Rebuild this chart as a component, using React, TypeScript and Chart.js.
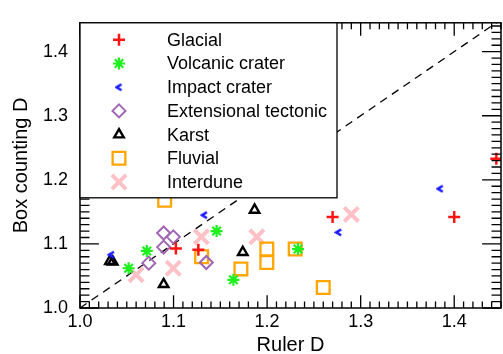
import React, { useEffect, useRef } from "react";
import { Chart, registerables } from "chart.js";
import { drawPoint } from "chart.js/helpers";

Chart.register(...registerables);

const seriesNames = ["Glacial", "Volcanic crater", "Impact crater", "Extensional tectonic", "Karst", "Fluvial", "Interdune"];

const glacialX = [1.445, 1.270, 1.400, 1.1025, 1.1265];
const glacialY = [1.233, 1.142, 1.142, 1.093, 1.091];

const volcanicX = [1.052, 1.0714, 1.146, 1.164, 1.233];
const volcanicY = [1.062, 1.089, 1.120, 1.044, 1.092];

const impactX = [1.133, 1.385, 1.2765, 1.0336];
const impactY = [1.145, 1.186, 1.118, 1.083];

const extensionalX = [1.0894, 1.0997, 1.0894, 1.0735, 1.135];
const extensionalY = [1.117, 1.111, 1.095, 1.070, 1.071];

const karstX = [1.032, 1.035, 1.0894, 1.1866, 1.174];
const karstY = [1.073, 1.072, 1.037, 1.153, 1.087];

const fluvialX = [1.0905, 1.130, 1.172, 1.1997, 1.1997, 1.230, 1.260];
const fluvialY = [1.168, 1.080, 1.061, 1.092, 1.071, 1.092, 1.032];

const interduneX = [1.060, 1.0997, 1.1297, 1.189, 1.290];
const interduneY = [1.052, 1.062, 1.111, 1.111, 1.146];

const xTicks = [1.0, 1.1, 1.2, 1.3, 1.4];
const yTicks = [1.0, 1.1, 1.2, 1.3, 1.4];
const xRange = [1.0, 1.45];
const yRange = [1.0, 1.445];
const diagonal = [1.0, 1.45];

const FONT = "'Liberation Sans', Arial, Helvetica, sans-serif";

function makeChevron(color: string) {
  const c = document.createElement("canvas");
  c.width = 9;
  c.height = 9;
  const ctx = c.getContext("2d")!;
  ctx.strokeStyle = color;
  ctx.lineWidth = 2.6;
  ctx.lineJoin = "miter";
  ctx.beginPath();
  ctx.moveTo(7, 1.5);
  ctx.lineTo(2.2, 4.5);
  ctx.lineTo(7, 7.5);
  ctx.stroke();
  return c;
}

const zip = (xs: number[], ys: number[]) => xs.map((x, i) => ({ x, y: ys[i] }));

export default function App() {
  const ref = useRef<HTMLCanvasElement | null>(null);

  useEffect(() => {
    const canvas = ref.current!;
    const chevron = makeChevron("#1a1aff");

    const styles = [
      { color: "#ff1414", pointStyle: "cross", radius: 6, borderWidth: 2.5 },
      { color: "#1ef01e", pointStyle: "star", radius: 6, borderWidth: 2.2 },
      { color: "#1a1aff", pointStyle: chevron as any, radius: 5, borderWidth: 0 },
      { color: "#a066b4", pointStyle: "rectRot", radius: 6.5, borderWidth: 2 },
      { color: "#000000", pointStyle: "triangle", radius: 5.5, borderWidth: 2.4 },
      { color: "#ffa500", pointStyle: "rect", radius: 9, borderWidth: 2.3 },
      { color: "#ffc0c6", pointStyle: "crossRot", radius: 10, borderWidth: 4 },
    ];
    const dataSets = [
      zip(glacialX, glacialY),
      zip(volcanicX, volcanicY),
      zip(impactX, impactY),
      zip(extensionalX, extensionalY),
      zip(karstX, karstY),
      zip(fluvialX, fluvialY),
      zip(interduneX, interduneY),
    ];

    const scatterSets = seriesNames.map((name, i) => ({
      label: name,
      data: dataSets[i],
      showLine: false,
      pointStyle: styles[i].pointStyle,
      pointRadius: styles[i].radius,
      pointBorderWidth: styles[i].borderWidth,
      pointBorderColor: styles[i].color,
      pointBackgroundColor: "rgba(0,0,0,0)",
      borderColor: styles[i].color,
      backgroundColor: "rgba(0,0,0,0)",
      order: 1,
    }));

    const frameTicks = {
      id: "frameTicks",
      afterDatasetsDraw(chart: any) {
        const { ctx, chartArea: a, scales } = chart;
        const xs = scales.x;
        const ys = scales.y;
        const w = a.right - a.left;
        const h = a.bottom - a.top;
        ctx.save();
        ctx.strokeStyle = "#000";
        ctx.lineWidth = 1.3;
        for (let k = 0; k <= 45; k++) {
          const v = xRange[0] + k * 0.01;
          const px = xs.getPixelForValue(v);
          const major = k % 10 === 0;
          const len = (major ? 0.045 : 0.0225) * h;
          ctx.beginPath();
          ctx.moveTo(px, a.bottom);
          ctx.lineTo(px, a.bottom - len);
          ctx.moveTo(px, a.top);
          ctx.lineTo(px, a.top + len);
          ctx.stroke();
        }
        for (let k = 0; k <= 44; k++) {
          const v = yRange[0] + k * 0.01;
          const py = ys.getPixelForValue(v);
          const major = k % 10 === 0;
          const len = (major ? 0.045 : 0.0225) * w;
          ctx.beginPath();
          ctx.moveTo(a.left, py);
          ctx.lineTo(a.left + len, py);
          ctx.moveTo(a.right, py);
          ctx.lineTo(a.right - len, py);
          ctx.stroke();
        }
        ctx.lineWidth = 1.5;
        ctx.strokeRect(a.left, a.top, w, h);
        ctx.restore();

        // legend box
        const lx = a.left;
        const ly = a.top;
        const lw = 257;
        const lh = 175;
        ctx.save();
        ctx.fillStyle = "#fff";
        ctx.fillRect(lx, ly, lw, lh);
        ctx.strokeStyle = "#000";
        ctx.lineWidth = 1.3;
        ctx.strokeRect(lx, ly, lw, lh);
        ctx.font = `18px ${FONT}`;
        ctx.textBaseline = "middle";
        ctx.textAlign = "left";
        seriesNames.forEach((name, i) => {
          const yy = ly + 17 + i * 23.7;
          const s = styles[i];
          ctx.save();
          ctx.strokeStyle = s.color;
          ctx.fillStyle = "rgba(0,0,0,0)";
          ctx.lineWidth = s.borderWidth;
          drawPoint(ctx, { pointStyle: s.pointStyle, radius: s.radius, borderWidth: s.borderWidth, rotation: 0 } as any, lx + 39, yy);
          ctx.restore();
          ctx.fillStyle = "#000";
          ctx.fillText(name, lx + 87, yy + 1);
        });
        ctx.restore();
      },
    };

    const chart = new Chart(canvas, {
      type: "scatter",
      data: {
        datasets: [
          {
            label: "1:1",
            data: diagonal.map((v) => ({ x: v, y: v })),
            showLine: true,
            borderColor: "#000",
            borderWidth: 1.3,
            borderDash: [8, 6],
            pointRadius: 0,
            order: 2,
          } as any,
          ...(scatterSets as any),
        ],
      },
      options: {
        responsive: false,
        animation: false,
        layout: { padding: { left: 0, top: 12, right: 11, bottom: 0 } },
        plugins: { legend: { display: false }, tooltip: { enabled: false } },
        scales: {
          x: {
            type: "linear",
            min: xRange[0],
            max: xRange[1],
            grid: { display: false, drawTicks: false },
            border: { display: false },
            afterBuildTicks: (s: any) => {
              s.ticks = xTicks.map((v) => ({ value: v }));
            },
            afterFit: (s: any) => {
              s.height = 46;
            },
            ticks: {
              padding: 3,
              color: "#000",
              font: { family: FONT, size: 18 },
              callback: (v: any) => Number(v).toFixed(1),
              maxRotation: 0,
            },
            title: {
              display: true,
              text: "Ruler D",
              color: "#000",
              font: { family: FONT, size: 20 },
              padding: { top: 0, bottom: -3 },
            },
          },
          y: {
            type: "linear",
            min: yRange[0],
            max: yRange[1],
            grid: { display: false, drawTicks: false },
            border: { display: false },
            afterBuildTicks: (s: any) => {
              s.ticks = yTicks.map((v) => ({ value: v }));
            },
            afterFit: (s: any) => {
              s.width = 80;
            },
            ticks: {
              padding: 12,
              color: "#000",
              font: { family: FONT, size: 18 },
              callback: (v: any) => Number(v).toFixed(1),
            },
            title: {
              display: true,
              text: "Box counting D",
              color: "#000",
              font: { family: FONT, size: 20 },
              padding: { top: 9, bottom: 0 },
            },
          },
        },
      },
      plugins: [frameTicks as any],
    });
    return () => chart.destroy();
  }, []);

  return (
    <div style={{ position: "fixed", left: 0, top: 0, width: 503, height: 354, overflow: "hidden", background: "#fff" }}>
      <canvas ref={ref} width={515} height={354} style={{ width: 515, height: 354, display: "block" }} />
    </div>
  );
}
